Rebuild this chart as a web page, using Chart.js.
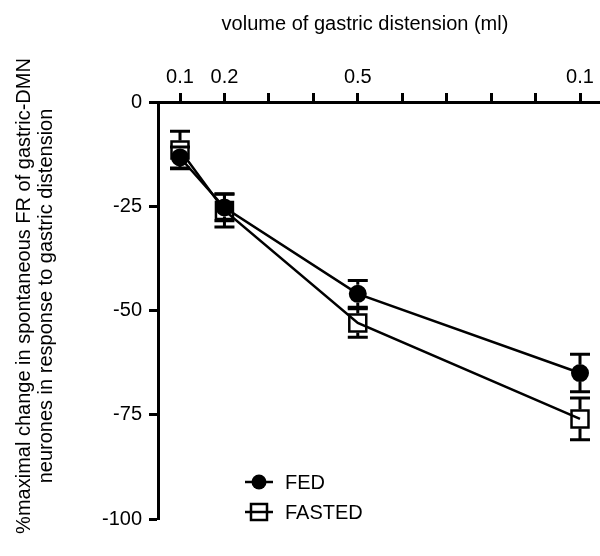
<!DOCTYPE html>
<html>
<head>
<meta charset="utf-8">
<script src="https://cdn.jsdelivr.net/npm/chart.js@4.4.1/dist/chart.umd.min.js"></script>
<style>
  html, body { margin: 0; padding: 0; background: #fff; }
  #wrap { width: 600px; height: 556px; position: relative; }
</style>
</head>
<body>
<div id="wrap"><canvas id="c" width="600" height="556"></canvas></div>
<script>
// ---- data ----
const volumes = [0.1, 0.2, 0.5, 1.0];
const fedValues = [-13.3, -25.3, -46, -65];
const fedErrors = [2.5, 3.2, 3.2, 4.5];
const fastedValues = [-11.5, -26, -53, -76];
const fastedErrors = [4.5, 4, 3.4, 5];
const seriesNames = ['FED', 'FASTED'];
const xTickValues = [0.1, 0.2, 0.3, 0.4, 0.5, 0.6, 0.7, 0.8, 0.9, 1.0];
const xTickLabels = ['0.1', '0.2', '', '', '0.5', '', '', '', '', '0.1'];
const yTickValues = [0, -25, -50, -75, -100];
const xTitle = 'volume of gastric distension (ml)';
const yTitleLines = ['%maximal change in spontaneous FR of gastric-DMN',
                     'neurones in response to gastric distension'];

const FONT = '"Liberation Sans", Arial, Helvetica, sans-serif';

const errorBars = {
  id: 'errorBars',
  afterDatasetsDraw(chart) {
    const ctx = chart.ctx;
    const ys = chart.scales.y;
    chart.data.datasets.forEach((ds, di) => {
      const meta = chart.getDatasetMeta(di);
      const edge = di === 0 ? 9 : 9.5;
      meta.data.forEach((pt, i) => {
        const v = ds.data[i].y, e = ds.errors[i];
        const x = pt.x, y = pt.y;
        const yTop = ys.getPixelForValue(v + e);
        const yBot = ys.getPixelForValue(v - e);
        ctx.save();
        ctx.strokeStyle = '#000';
        ctx.lineWidth = 3;
        ctx.beginPath();
        if (y - yTop > edge) { ctx.moveTo(x, y - edge); ctx.lineTo(x, yTop); }
        if (yBot - y > edge) { ctx.moveTo(x, y + edge); ctx.lineTo(x, yBot); }
        ctx.moveTo(x - 10, yTop); ctx.lineTo(x + 10, yTop);
        ctx.moveTo(x - 10, yBot); ctx.lineTo(x + 10, yBot);
        ctx.stroke();
        ctx.restore();
      });
    });
  }
};

const textPlugin = {
  id: 'textPlugin',
  afterDraw(chart) {
    const ctx = chart.ctx;
    ctx.save();
    ctx.fillStyle = '#000';
    ctx.font = '20px ' + FONT;
    ctx.textAlign = 'center';
    ctx.textBaseline = 'alphabetic';
    ctx.fillText(xTitle, 365, 30);
    ctx.save();
    ctx.translate(0, 296);
    ctx.rotate(-Math.PI / 2);
    ctx.fillText(yTitleLines[0], 0, 30);
    ctx.fillText(yTitleLines[1], 0, 52);
    ctx.restore();

    // legend
    const rows = [482, 512];
    ctx.strokeStyle = '#000';
    ctx.lineWidth = 2.5;
    rows.forEach((ry, i) => {
      ctx.beginPath();
      ctx.moveTo(245, ry); ctx.lineTo(273, ry);
      ctx.stroke();
      if (i === 0) {
        ctx.beginPath();
        ctx.arc(259, ry, 7.5, 0, Math.PI * 2);
        ctx.fillStyle = '#000';
        ctx.fill();
      } else {
        ctx.strokeRect(251, ry - 8, 16, 16);
      }
      ctx.fillStyle = '#000';
      ctx.font = '20px ' + FONT;
      ctx.textAlign = 'left';
      ctx.textBaseline = 'middle';
      ctx.fillText(seriesNames[i], 285, ry + 1);
    });
    ctx.restore();
  }
};

new Chart(document.getElementById('c'), {
  type: 'scatter',
  data: {
    datasets: [
      {
        label: seriesNames[0],
        data: volumes.map((v, i) => ({ x: v, y: fedValues[i] })),
        errors: fedErrors,
        showLine: true,
        borderColor: '#000',
        borderWidth: 2.5,
        backgroundColor: '#000',
        pointStyle: 'circle',
        pointRadius: 8,
        pointBorderWidth: 2,
        pointBorderColor: '#000',
        pointBackgroundColor: '#000'
      },
      {
        label: seriesNames[1],
        data: volumes.map((v, i) => ({ x: v, y: fastedValues[i] })),
        errors: fastedErrors,
        showLine: true,
        borderColor: '#000',
        borderWidth: 2.5,
        backgroundColor: 'rgba(0,0,0,0)',
        pointStyle: 'rect',
        pointRadius: 12,
        pointBorderWidth: 2.5,
        pointBorderColor: '#000',
        pointBackgroundColor: 'rgba(0,0,0,0)'
      }
    ]
  },
  options: {
    responsive: false,
    animation: false,
    layout: { autoPadding: false, padding: { left: 0, right: 0, top: 0, bottom: 37 } },
    plugins: { legend: { display: false }, tooltip: { enabled: false } },
    scales: {
      x: {
        type: 'linear',
        position: 'top',
        min: 0.0505,
        max: 1.045,
        afterBuildTicks(scale) { scale.ticks = xTickValues.map(v => ({ value: v })); },
        afterFit(scale) { scale.height = 102; scale.paddingLeft = 0; scale.paddingRight = 0; },
        ticks: {
          autoSkip: false,
          maxRotation: 0,
          padding: 4,
          color: '#000',
          font: { family: FONT, size: 20 },
          callback(value, index) { return xTickLabels[index]; }
        },
        grid: { drawOnChartArea: false, drawTicks: true, tickLength: 9, tickWidth: 3, tickColor: '#000' },
        border: { display: true, color: '#000', width: 3 }
      },
      y: {
        type: 'linear',
        min: -100,
        max: 0,
        afterBuildTicks(scale) { scale.ticks = yTickValues.map(v => ({ value: v })); },
        afterFit(scale) { scale.width = 158; scale.paddingTop = 0; scale.paddingBottom = 0; },
        ticks: {
          padding: 7,
          color: '#000',
          font: { family: FONT, size: 20 }
        },
        grid: { drawOnChartArea: false, drawTicks: true, tickLength: 9, tickWidth: 3, tickColor: '#000' },
        border: { display: true, color: '#000', width: 3 }
      }
    }
  },
  plugins: [errorBars, textPlugin]
});
</script>
</body>
</html>
